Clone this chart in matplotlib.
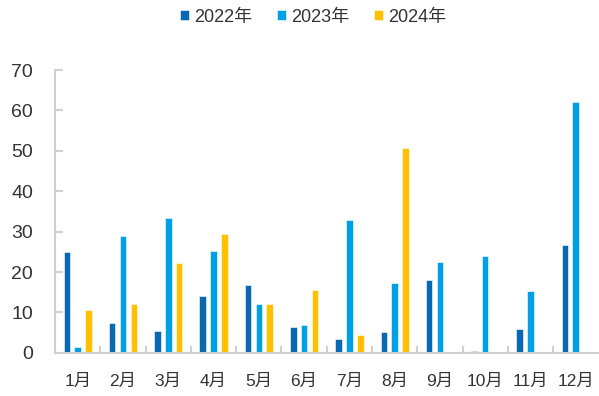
import numpy as np
import matplotlib
matplotlib.use("Agg")
import matplotlib.pyplot as plt
from matplotlib.ticker import FixedLocator

plt.rcParams['font.family'] = ['Liberation Sans', 'Noto Sans CJK SC']

months = ['1月', '2月', '3月', '4月', '5月', '6月', '7月', '8月', '9月', '10月', '11月', '12月']
v2022 = [25.0, 7.3, 5.3, 14.1, 16.8, 6.3, 3.5, 5.2, 18.0, 0.4, 6.0, 26.6]
v2023 = [1.5, 29.0, 33.3, 25.3, 12.0, 7.0, 33.0, 17.3, 22.6, 24.0, 15.2, 62.2]
v2024 = [10.7, 12.0, 22.2, 29.3, 12.0, 15.5, 4.5, 50.6, np.nan, np.nan, np.nan, np.nan]
series = ['2022年', '2023年', '2024年']
colors = ['#0868B2', '#00A0E6', '#FFC000']

fig = plt.figure(figsize=(5.99, 3.96), dpi=100)
ax = fig.add_axes([0.092, 0.109, 0.907, 0.714])

x = np.arange(len(months))
w = 0.145
off = 0.24
for i, (vals, lab, c) in enumerate(zip([v2022, v2023, v2024], series, colors)):
    ax.bar(x + (i - 1) * off, vals, width=w, color=c, label=lab,
           edgecolor='white', linewidth=0.4)

ax.set_xlim(-0.5, 11.5)
ax.set_ylim(0, 70)
ax.set_yticks(np.arange(0, 71, 10))
ax.set_xticks(x)
ax.set_xticklabels(months)
ax.xaxis.set_minor_locator(FixedLocator(np.arange(0.5, 11, 1)))

for s in ['top', 'right']:
    ax.spines[s].set_visible(False)
for s in ['left', 'bottom']:
    ax.spines[s].set_color('#D0D0D0')
    ax.spines[s].set_linewidth(1.5)

ax.tick_params(axis='x', which='major', length=0, pad=15, labelsize=12.5, colors='#333333')
ax.tick_params(axis='x', which='minor', direction='in', length=5, width=1.5, color='#D0D0D0')
ax.tick_params(axis='y', direction='in', length=6, width=1.5, color='#D0D0D0',
               pad=16, labelsize=14, labelcolor='#333333')

ax.legend(loc='upper center', bbox_to_anchor=(0.475, 1.275), ncol=3, frameon=False,
          fontsize=13, handlelength=0.5, handleheight=0.5, handletextpad=0.25,
          columnspacing=1.4, labelcolor='#333333')

fig.savefig('out.png', dpi=100)
